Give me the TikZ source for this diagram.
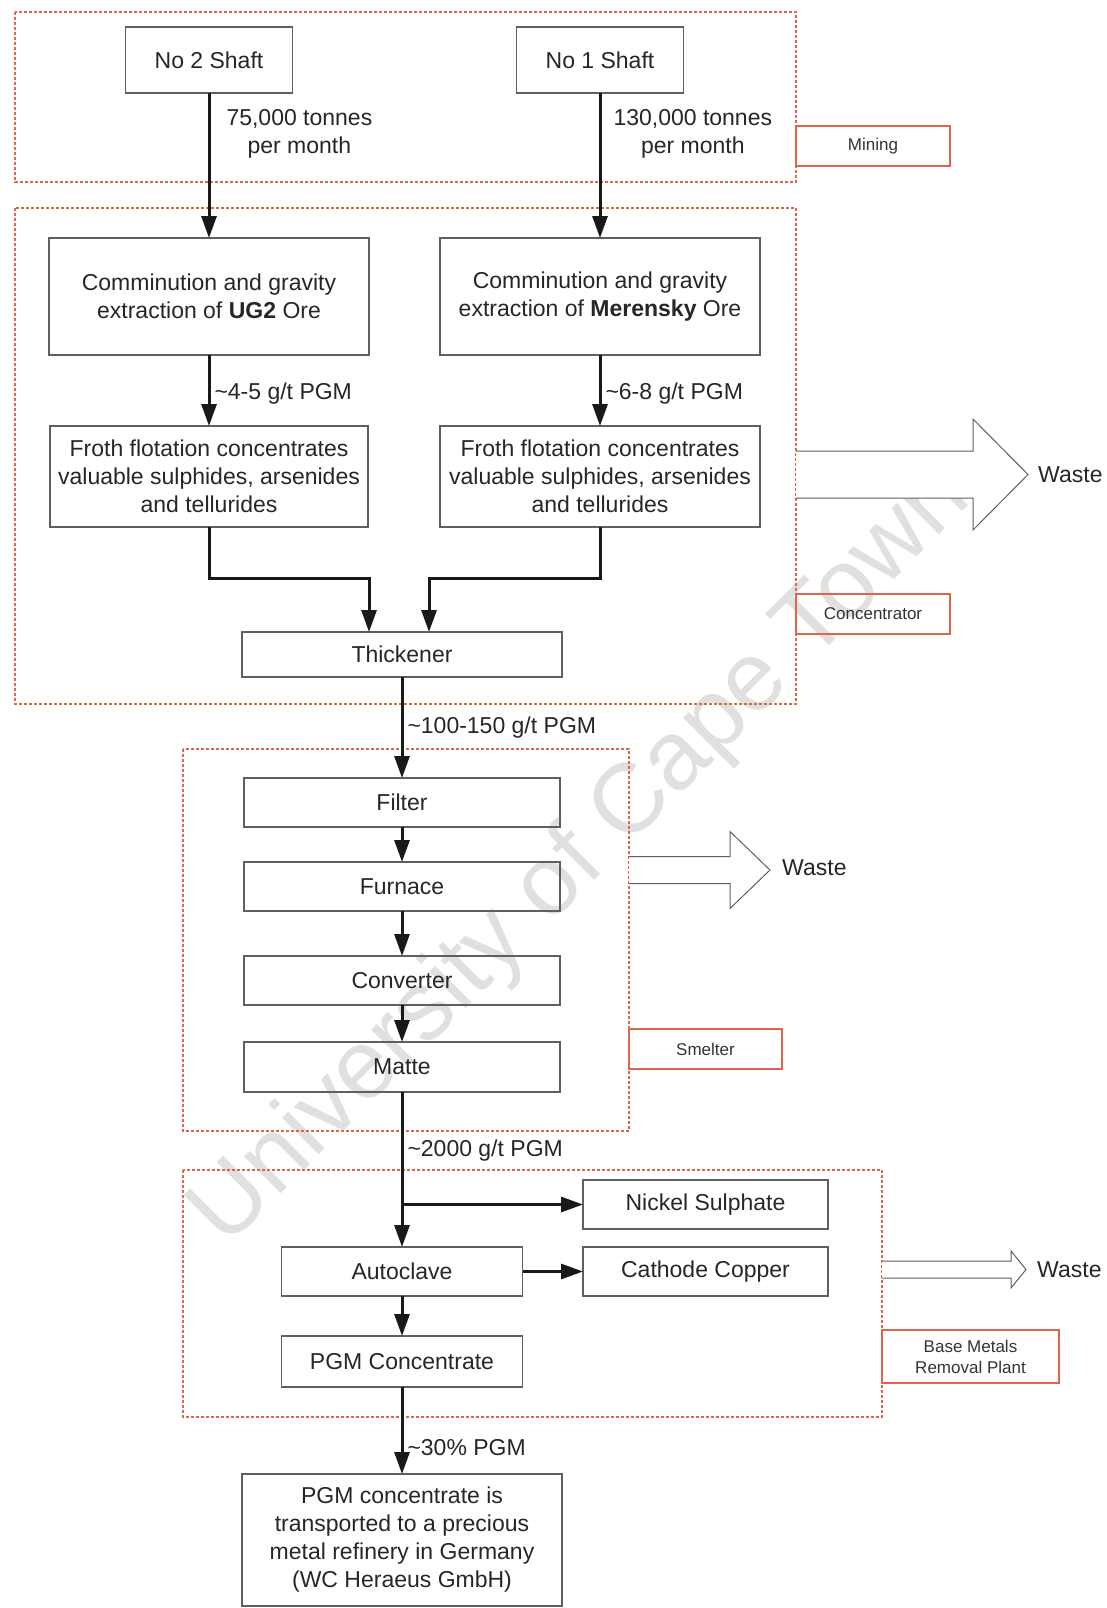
\documentclass[tikz,border=0pt]{standalone}
\usepackage{fontspec}
\setmainfont{Liberation Sans}
\usetikzlibrary{arrows.meta}

\definecolor{zonered}{RGB}{224,100,76}
\definecolor{boxgray}{RGB}{95,95,95}
\tikzset{
  stage/.style={draw=boxgray, line width=1.4pt, align=center, inner sep=2pt, outer sep=0pt,
    text=black!85, font=\fontsize{23}{28}\selectfont},
  zone/.style={draw=zonered, line width=1.4pt, dash pattern=on 3pt off 2pt},
  tag/.style={draw=zonered, line width=2pt, align=center, outer sep=0pt,
    text=black!80, font=\fontsize{17}{21}\selectfont},
  flow/.style={line width=3pt, black!90, -{Triangle[length=22pt,width=15pt]}},
  grade/.style={text=black!85, font=\fontsize{23}{28}\selectfont, inner sep=4pt},
  wastearrow/.style={draw=boxgray, line width=1pt, fill=white},
}

\begin{document}
\begin{tikzpicture}[x=1pt,y=-1pt]
    \useasboundingbox (0,0) rectangle (1107,1608);
    % Watermark
    \node[rotate=45, text=black!12, font=\fontsize{98}{100}\selectfont] (mark) at (582,857) {University of Cape Town};

    % Zones
    \draw[zone] (15,12) rectangle (796,182);
    \draw[zone] (15,208) rectangle (796,704);
    \draw[zone] (183,749) rectangle (629,1131);
    \draw[zone] (183,1170) rectangle (882,1417);
    \node[tag, minimum width=154pt, minimum height=40pt] (mining) at (873,146) {Mining};
    \node[tag, minimum width=154pt, minimum height=40pt] (conc) at (873,614) {Concentrator};
    \node[tag, minimum width=153pt, minimum height=40pt] (smelt) at (705.5,1049) {Smelter};
    \node[tag, minimum width=177pt, minimum height=53pt] (bmr) at (970.5,1356.5) {Base Metals\\Removal Plant};

    % Mining
    \node[stage, minimum width=167pt, minimum height=66pt] (shaft2) at (209,60) {No 2 Shaft};
    \node[stage, minimum width=167pt, minimum height=66pt] (shaft1) at (600,60) {No 1 Shaft};

    % Concentrator
    \node[stage, minimum width=320pt, minimum height=117pt] (ug2) at (209,296.5)
      {Comminution and gravity\\extraction of \textbf{UG2} Ore};
    \node[stage, minimum width=320pt, minimum height=117pt] (meren) at (600,296.5)
      {Comminution and gravity\\extraction of \textbf{Merensky} Ore};
    \node[stage, minimum width=318pt, minimum height=101pt] (froth2) at (209,476.5)
      {Froth flotation concentrates\\valuable sulphides, arsenides\\and tellurides};
    \node[stage, minimum width=320pt, minimum height=101pt] (froth1) at (600,476.5)
      {Froth flotation concentrates\\valuable sulphides, arsenides\\and tellurides};
    \node[stage, minimum width=320pt, minimum height=45pt] (thick) at (402,654.5) {Thickener};

    \draw[flow] (shaft2) -- (ug2) node[grade, pos=0.28, right, xshift=12pt, align=center] {75,000 tonnes\\per month};
    \draw[flow] (shaft1) -- (meren) node[grade, pos=0.28, right, xshift=8pt, align=center] {130,000 tonnes\\per month};
    \draw[flow] (ug2) -- (froth2) node[grade, pos=0.55, right] {\textasciitilde4-5 g/t PGM};
    \draw[flow] (meren) -- (froth1) node[grade, pos=0.55, right] {\textasciitilde6-8 g/t PGM};
    \draw[flow] (froth2.south) -- ++(0,51) -| ([xshift=-33pt]thick.north);
    \draw[flow] (froth1.south) -- ++(0,51) -| ([xshift=27pt]thick.north);

    % Smelter
    \node[stage, minimum width=316pt, minimum height=49pt] (filter) at (402,802.5) {Filter};
    \node[stage, minimum width=316pt, minimum height=49pt] (furnace) at (402,886.5) {Furnace};
    \node[stage, minimum width=316pt, minimum height=49pt] (convert) at (402,980.5) {Converter};
    \node[stage, minimum width=316pt, minimum height=50pt] (matte) at (402,1067) {Matte};

    \draw[flow] (thick) -- (filter) node[grade, midway, right] {\textasciitilde100-150 g/t PGM};
    \draw[flow] (filter) -- (furnace);
    \draw[flow] (furnace) -- (convert);
    \draw[flow] (convert) -- (matte);

    % Base metals removal
    \node[stage, minimum width=245pt, minimum height=49pt] (nickel) at (705.5,1204.5) {Nickel Sulphate};
    \node[stage, minimum width=245pt, minimum height=49pt] (copper) at (705.5,1271.5) {Cathode Copper};
    \node[stage, minimum width=241pt, minimum height=49pt] (autoclave) at (402,1271.5) {Autoclave};
    \node[stage, minimum width=241pt, minimum height=51pt] (pgmconc) at (402,1361.5) {PGM Concentrate};
    \node[stage, minimum width=320pt, minimum height=132pt] (refinery) at (402,1540)
      {PGM concentrate is\\transported to a precious\\metal refinery in Germany\\(WC Heraeus GmbH)};

    \draw[flow] (matte) -- (autoclave) node[grade, pos=0.38, right] {\textasciitilde2000 g/t PGM};
    \draw[flow] (matte.south |- nickel.west) -- (nickel.west);
    \draw[flow] (autoclave) -- (copper);
    \draw[flow] (autoclave) -- (pgmconc);
    \draw[flow] (pgmconc) -- (refinery) node[grade, pos=0.7, right] {\textasciitilde30\% PGM};

    % Waste streams
    \draw[wastearrow] (796,451) -- (973,451) -- (973,419) -- (1028,474.5) -- (973,530) -- (973,498) -- (796,498);
    \node[grade, anchor=west] (waste1) at (1034,474.5) {Waste};
    \draw[wastearrow] (629,856.5) -- (730,856.5) -- (730,831.5) -- (770,870) -- (730,908.5) -- (730,883.5) -- (629,883.5);
    \node[grade, anchor=west] (waste2) at (778,868) {Waste};
    \draw[wastearrow] (882,1261) -- (1011,1261) -- (1011,1251) -- (1026,1269.5) -- (1011,1288) -- (1011,1278) -- (882,1278);
    \node[grade, anchor=west] (waste3) at (1033,1270) {Waste};
\end{tikzpicture}
\end{document}
